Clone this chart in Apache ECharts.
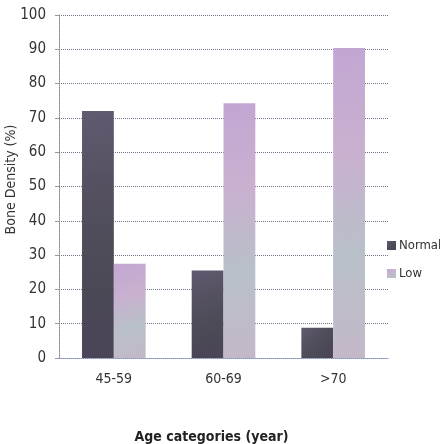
<!DOCTYPE html>
<html><head><meta charset="utf-8">
<script src="https://cdn.jsdelivr.net/npm/echarts@6/dist/echarts.min.js"></script>
<style>html,body{margin:0;padding:0;background:#fff}#c{width:440px;height:444px}</style>
</head><body><div id="c"></div>
<script>
var categories = ['45-59', '60-69', '>70'];
var normalValues = [72, 25.5, 8.8];
var lowValues = [27.5, 74.3, 90.4];
var yTicks = [0, 10, 20, 30, 40, 50, 60, 70, 80, 90, 100];

var FONT = '"DejaVu Sans Condensed", "Liberation Sans", sans-serif';
var chart = echarts.init(document.getElementById('c'));
function vgrad(stops) {
  return new echarts.graphic.LinearGradient(0, 0, 1, 1, stops.map(function (c, i) {
    return {offset: i / (stops.length - 1), color: c};
  }));
}
chart.setOption({
  animation: false,
  textStyle: {fontFamily: FONT},
  grid: {left: 59, right: 52, top: 15, bottom: 86, containLabel: false, outerBoundsMode: 'none'},
  legend: {
    orient: 'vertical', left: 382, top: 234, itemWidth: 9, itemHeight: 9, itemGap: 15,
    icon: 'rect', itemStyle: {borderWidth: 0},
    textStyle: {fontSize: 13, color: '#333', fontFamily: FONT, padding: [0, 0, 0, -2]},
    data: ['Normal', 'Low']
  },
  xAxis: {
    type: 'category', data: categories,
    name: 'Age categories (year)', nameLocation: 'middle', nameGap: 72, nameMoveOverlap: false,
    nameTextStyle: {fontSize: 14, fontWeight: 'bold', color: '#222', padding: [0, 24, 0, 0], fontFamily: FONT},
    axisLine: {lineStyle: {color: '#7f8fb5', type: 'dotted'}},
    axisTick: {show: false},
    axisLabel: {fontSize: 14, color: '#333', margin: 14, fontFamily: FONT}
  },
  yAxis: {
    type: 'value', min: 0, max: 100, interval: 10,
    name: 'Bone Density (%)', nameLocation: 'middle', nameGap: 41, nameMoveOverlap: false,
    nameTextStyle: {fontSize: 14, color: '#333', fontFamily: FONT, padding: [0, 0, 0, 14]},
    axisLine: {show: true, lineStyle: {color: '#888', type: 'dotted'}},
    axisTick: {show: true, length: 4, lineStyle: {color: '#999'}},
    axisLabel: {fontSize: 15, color: '#333', margin: 13, fontFamily: FONT,
      formatter: function (v) { return yTicks.indexOf(v) >= 0 ? String(v) : ''; }},
    splitLine: {lineStyle: {color: '#6f7488', type: 'dotted', width: 1}}
  },
  series: [
    {
      name: 'Normal', type: 'bar', data: normalValues, barGap: '0%', barCategoryGap: '42%',
      itemStyle: {color: vgrad(['#615a70', '#545060', '#4c4a56', '#4a4458'])}
    },
    {
      name: 'Low', type: 'bar', data: lowValues,
      itemStyle: {color: vgrad(['#c2a6d2', '#c9b0d0', '#b8c0c8', '#c4b8c8'])}
    }
  ]
});
</script></body></html>
